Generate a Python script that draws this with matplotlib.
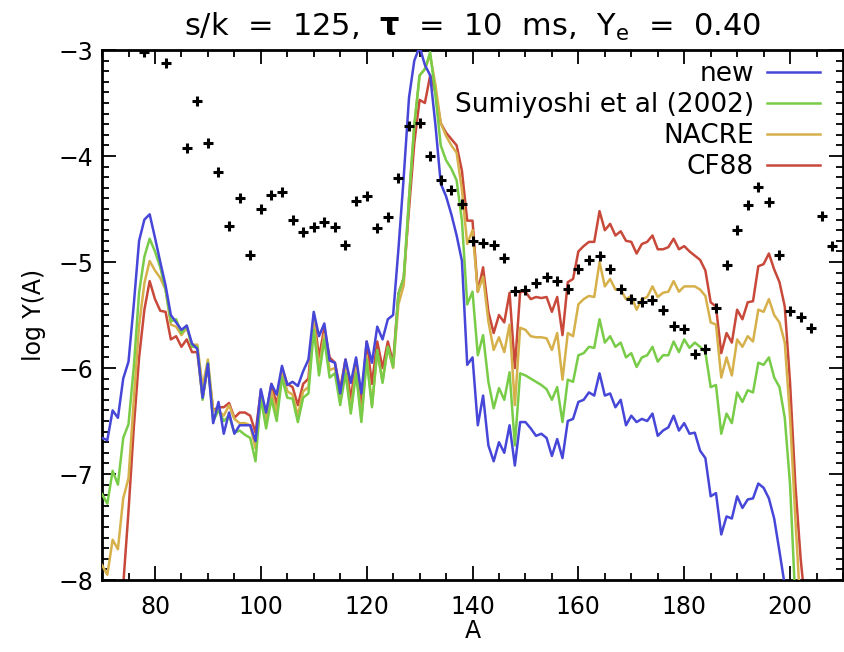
import numpy as np
import matplotlib.pyplot as plt
from matplotlib.ticker import MultipleLocator

plt.rcParams['font.family'] = ['DejaVu Sans']

# mass numbers for the network runs (one value per A)
A_new = np.arange(70, 200)
new = [-6.66, -6.68, -6.40, -6.47, -6.10, -5.94, -5.40, -4.80, -4.60, -4.55,
       -4.77, -5.00, -5.22, -5.50, -5.57, -5.64, -5.60, -5.77, -5.82, -6.28,
       -5.96, -6.52, -6.32, -6.62, -6.42, -6.62, -6.54, -6.54, -6.54, -6.69,
       -6.20, -6.42, -6.15, -6.25, -5.98, -6.16, -6.13, -6.17, -6.03, -5.92,
       -5.47, -5.70, -5.58, -5.93, -5.95, -6.24, -5.92, -6.14, -5.90, -6.24,
       -5.75, -5.95, -5.61, -5.73, -5.54, -5.50, -4.88, -4.20, -3.45, -3.10,
       -2.97, -3.14, -3.24, -3.71, -4.26, -4.38, -4.55, -4.75, -4.99, -5.97,
       -5.90, -6.54, -6.26, -6.73, -6.88, -6.70, -6.80, -6.54, -6.92, -6.51,
       -6.51, -6.57, -6.64, -6.62, -6.66, -6.83, -6.67, -6.85, -6.50, -6.48,
       -6.32, -6.30, -6.23, -6.26, -6.05, -6.26, -6.24, -6.37, -6.30, -6.54,
       -6.45, -6.51, -6.48, -6.50, -6.43, -6.64, -6.59, -6.56, -6.45, -6.59,
       -6.52, -6.62, -6.61, -6.78, -6.85, -7.21, -7.18, -7.57, -7.40, -7.42,
       -7.21, -7.32, -7.24, -7.23, -7.09, -7.13, -7.23, -7.42, -7.73, -8.05]

A_sumi = np.arange(70, 202)
sumiyoshi = [-7.19, -7.28, -6.97, -7.10, -6.66, -6.53, -5.99, -5.29, -4.95, -4.78,
             -4.90, -5.05, -5.26, -5.56, -5.54, -5.67, -5.60, -5.80, -5.80, -6.30,
             -5.95, -6.50, -6.40, -6.50, -6.45, -6.61, -6.59, -6.63, -6.66, -6.88,
             -6.28, -6.57, -6.29, -6.50, -6.09, -6.28, -6.29, -6.51, -6.28, -6.24,
             -5.64, -6.07, -5.73, -6.09, -6.05, -6.35, -6.05, -6.43, -6.05, -6.51,
             -5.92, -6.37, -5.83, -6.14, -5.80, -5.99, -5.30, -5.15, -4.40, -3.71,
             -3.24, -3.18, -3.02, -3.43, -3.90, -4.04, -4.12, -4.23, -4.61, -5.40,
             -5.28, -5.88, -5.69, -6.13, -6.38, -6.19, -6.30, -6.04, -6.73, -6.05,
             -6.07, -6.10, -6.13, -6.16, -6.20, -6.30, -6.18, -6.51, -6.11, -6.13,
             -5.88, -5.86, -5.80, -5.81, -5.54, -5.76, -5.70, -5.80, -5.76, -5.90,
             -5.86, -5.99, -5.90, -5.88, -5.80, -5.94, -5.88, -5.88, -5.75, -5.85,
             -5.73, -5.81, -5.76, -5.80, -5.85, -6.18, -6.16, -6.62, -6.43, -6.52,
             -6.23, -6.32, -6.21, -6.23, -5.95, -5.97, -5.90, -6.09, -6.18, -6.47,
             -7.10, -8.20]

A_nacre = np.arange(70, 203)
nacre = [-7.86, -7.95, -7.62, -7.71, -7.23, -7.04, -6.30, -5.60, -5.20, -4.99,
         -5.08, -5.15, -5.26, -5.59, -5.61, -5.69, -5.62, -5.78, -5.78, -6.18,
         -5.92, -6.40, -6.40, -6.45, -6.35, -6.48, -6.52, -6.52, -6.54, -6.76,
         -6.25, -6.50, -6.22, -6.42, -6.02, -6.22, -6.25, -6.45, -6.22, -6.18,
         -5.55, -6.00, -5.68, -6.02, -6.00, -6.30, -6.00, -6.40, -6.00, -6.48,
         -5.88, -6.35, -5.85, -6.12, -5.80, -6.00, -5.40, -5.22, -4.40, -3.71,
         -3.24, -3.18, -3.05, -3.33, -3.69, -3.81, -3.90, -3.97, -4.32, -4.83,
         -4.70, -5.28, -5.14, -5.56, -5.83, -5.71, -5.85, -5.59, -6.35, -5.62,
         -5.64, -5.70, -5.71, -5.71, -5.72, -5.83, -5.67, -6.11, -5.67, -5.70,
         -5.40, -5.35, -5.32, -5.33, -5.00, -5.23, -5.16, -5.26, -5.26, -5.35,
         -5.32, -5.45, -5.35, -5.33, -5.23, -5.33, -5.29, -5.28, -5.18, -5.28,
         -5.23, -5.23, -5.23, -5.26, -5.32, -5.57, -5.59, -6.09, -5.90, -6.07,
         -5.73, -5.80, -5.70, -5.75, -5.45, -5.47, -5.35, -5.50, -5.57, -5.76,
         -6.47, -7.42, -8.30]

A_cf88 = np.arange(73, 204)
cf88 = [-8.60, -8.05, -7.35, -6.56, -5.90, -5.45, -5.18, -5.35, -5.46, -5.47,
        -5.73, -5.70, -5.80, -5.73, -5.85, -5.85, -6.28, -5.99, -6.40, -6.37,
        -6.37, -6.33, -6.47, -6.42, -6.42, -6.45, -6.61, -6.22, -6.45, -6.15,
        -6.35, -6.00, -6.15, -6.18, -6.35, -6.15, -6.10, -5.50, -5.90, -5.62,
        -5.90, -5.95, -6.20, -5.92, -6.30, -5.92, -6.35, -5.75, -6.15, -5.75,
        -6.00, -5.75, -5.95, -5.30, -5.15, -4.50, -3.88, -3.47, -3.50, -3.24,
        -3.40, -3.69, -3.78, -3.84, -3.90, -4.14, -4.61, -4.61, -5.28, -5.05,
        -5.47, -5.67, -5.50, -5.57, -5.29, -6.00, -5.28, -5.28, -5.35, -5.33,
        -5.34, -5.33, -5.47, -5.33, -5.69, -5.19, -5.16, -4.90, -4.85, -4.81,
        -4.81, -4.52, -4.70, -4.64, -4.75, -4.71, -4.80, -4.81, -4.92, -4.83,
        -4.81, -4.75, -4.88, -4.88, -4.86, -4.78, -4.88, -4.85, -4.90, -4.94,
        -4.98, -5.08, -5.38, -5.42, -5.86, -5.67, -5.76, -5.45, -5.54, -5.38,
        -5.37, -5.04, -5.02, -4.92, -5.07, -5.19, -5.42, -6.14, -7.10, -7.80,
        -8.30]

# solar r-process abundances
A_solar = [78, 82, 86, 88, 90, 92, 94, 96, 98, 100, 102, 104, 106, 108, 110,
           112, 114, 116, 118, 120, 122, 124, 126, 128, 130, 132, 134, 136, 138,
           140, 142, 144, 146, 148, 150, 152, 154, 156, 158, 160, 162, 164, 166,
           168, 170, 172, 174, 176, 178, 180, 182, 184, 186, 188, 190, 192, 194,
           196, 198, 200, 202, 204, 206, 208]
solar = [-3.02, -3.12, -3.92, -3.48, -3.88, -4.15, -4.66, -4.40, -4.93, -4.50,
         -4.37, -4.34, -4.60, -4.72, -4.67, -4.62, -4.67, -4.84, -4.42, -4.38,
         -4.68, -4.58, -4.21, -3.72, -3.69, -4.00, -4.23, -4.32, -4.45, -4.80,
         -4.82, -4.84, -4.96, -5.27, -5.26, -5.20, -5.14, -5.18, -5.25, -5.07,
         -4.98, -4.94, -5.07, -5.25, -5.35, -5.38, -5.36, -5.45, -5.60, -5.63,
         -5.87, -5.82, -5.43, -5.03, -4.70, -4.46, -4.29, -4.43, -4.93, -5.46,
         -5.52, -5.62, -4.57, -4.85]

fig = plt.figure(figsize=(8.44, 6.52), dpi=100)
ax = fig.add_axes([0.1209, 0.1104, 0.8779, 0.8129])

l4, = ax.plot(A_cf88, cf88, color='#c8483a', lw=1.8, label='CF88', zorder=2)
l3, = ax.plot(A_nacre, nacre, color='#d6b04a', lw=1.8, label='NACRE', zorder=3)
l2, = ax.plot(A_sumi, sumiyoshi, color='#78cc48', lw=1.8,
              label='Sumiyoshi et al (2002)', zorder=4)
l1, = ax.plot(A_new, new, color='#4646d8', lw=1.8, label='new', zorder=5)
ax.plot(A_solar, solar, ls='none', marker='+', color='black', ms=7.5, mew=2.2,
        zorder=6)

ax.set_xlim(70, 210)
ax.set_ylim(-8, -3)
ax.xaxis.set_major_locator(MultipleLocator(20))
ax.xaxis.set_minor_locator(MultipleLocator(5))
ax.yaxis.set_major_locator(MultipleLocator(1))
ax.yaxis.set_minor_locator(MultipleLocator(0.1))
ax.tick_params(which='both', direction='in', top=True, right=True,
               labelsize=17, width=1.3)
ax.tick_params(axis='x', which='major', pad=11)
ax.tick_params(axis='y', which='major', pad=6)
ax.tick_params(which='major', length=10)
ax.tick_params(which='minor', length=5)
for s in ax.spines.values():
    s.set_linewidth(2)

ax.set_xlabel('A', fontsize=17, labelpad=0)
ax.set_ylabel('log Y(A)', fontsize=17, labelpad=9)
ax.set_title(r's/k  =  125,  $\mathbf{\tau}$  =  10  ms,  Y$_{\rm e}$  =  0.40',
             fontsize=22, pad=10)

ax.legend(handles=[l1, l2, l3, l4], loc='upper right',
          bbox_to_anchor=(0.976, 0.989), frameon=False,
          markerfirst=False, fontsize=19, handlelength=2.0,
          handletextpad=0.5, labelspacing=0.19, borderpad=0.2,
          borderaxespad=0.0)

fig.savefig('out.png', dpi=100)
